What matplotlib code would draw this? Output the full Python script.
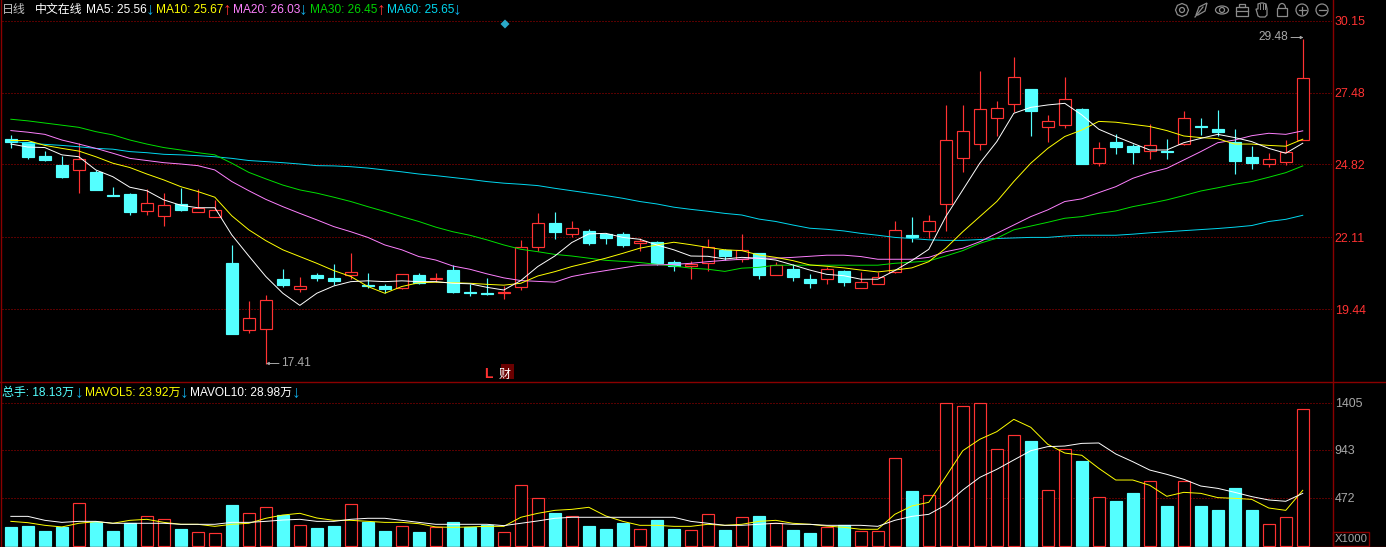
import matplotlib
matplotlib.use('Agg')
import matplotlib.pyplot as plt
from matplotlib.patches import Circle, Ellipse, Polygon, Rectangle, RegularPolygon, Arc

plt.rcParams['font.family'] = ['Liberation Sans', 'Noto Sans CJK SC', 'DejaVu Sans']

# Daily candles
opens = [25.76, 25.64, 25.13, 24.80, 24.59, 24.54, 23.68, 23.72, 23.10, 22.92,
         23.34, 23.07, 22.88, 21.16, 18.66, 18.73, 20.57, 20.18, 20.72, 20.61,
         20.73, 20.35, 20.31, 20.25, 20.72, 20.57, 20.90, 20.09, 20.05, 20.06,
         20.26, 21.77, 22.64, 22.25, 22.35, 22.24, 22.24, 21.90, 21.94, 21.20,
         21.05, 21.15, 21.64, 21.31, 21.53, 20.73, 20.94, 20.57, 20.58, 20.87,
         20.25, 20.40, 20.84, 22.20, 22.36, 23.36, 25.07, 25.59, 26.55, 27.07,
         27.61, 26.22, 26.29, 26.87, 24.87, 25.65, 25.50, 25.33, 25.31, 25.56,
         26.23, 26.13, 25.65, 25.09, 24.84, 24.92, 25.71]
closes = [25.65, 25.10, 24.98, 24.35, 25.01, 23.87, 23.66, 23.05, 23.37, 23.30,
          23.13, 23.21, 23.12, 18.53, 19.11, 19.78, 20.35, 20.30, 20.61, 20.50,
          20.82, 20.31, 20.20, 20.74, 20.41, 20.61, 20.09, 20.06, 20.01, 20.10,
          21.74, 22.63, 22.31, 22.45, 21.90, 22.09, 21.83, 21.98, 21.16, 21.05,
          21.13, 21.74, 21.42, 21.63, 20.72, 21.08, 20.64, 20.42, 20.93, 20.46,
          20.45, 20.63, 22.37, 22.13, 22.71, 25.71, 26.04, 26.86, 26.90, 28.04,
          26.80, 26.41, 27.23, 24.83, 25.41, 25.46, 25.28, 25.52, 25.28, 26.52,
          26.20, 26.02, 24.94, 24.87, 25.01, 25.26, 28.01]
highs = [25.91, 25.64, 25.31, 25.14, 25.60, 24.61, 23.98, 23.77, 23.89, 23.76,
         23.93, 23.89, 23.50, 21.83, 19.74, 19.98, 20.94, 20.64, 20.79, 21.13,
         21.53, 20.79, 20.38, 20.74, 20.79, 20.79, 21.08, 20.37, 20.59, 20.32,
         22.01, 23.02, 23.05, 22.72, 22.42, 22.27, 22.31, 22.09, 21.98, 21.27,
         21.24, 22.05, 21.68, 22.24, 21.53, 21.20, 21.13, 20.75, 21.01, 20.90,
         20.83, 20.83, 22.72, 22.87, 22.94, 27.02, 27.02, 28.28, 27.17, 28.80,
         27.61, 26.65, 28.06, 26.91, 25.65, 25.94, 25.57, 26.31, 25.76, 26.80,
         26.54, 26.83, 26.13, 25.50, 25.24, 25.72, 29.48]
lows = [25.44, 25.03, 24.94, 24.31, 23.77, 23.87, 23.66, 22.94, 22.95, 22.53,
        23.09, 23.07, 22.88, 18.53, 18.58, 17.41, 20.26, 20.09, 20.50, 20.35,
        20.58, 20.24, 20.04, 20.20, 20.37, 20.46, 20.05, 19.94, 19.98, 19.83,
        20.16, 21.61, 22.05, 22.13, 21.83, 21.87, 21.76, 21.61, 21.09, 20.87,
        20.57, 20.87, 21.27, 21.20, 20.57, 20.73, 20.50, 20.24, 20.38, 20.31,
        20.25, 20.40, 20.79, 21.94, 22.09, 22.35, 24.54, 25.35, 25.87, 26.76,
        25.87, 25.65, 26.17, 24.83, 24.76, 25.20, 24.83, 25.02, 25.02, 25.54,
        25.91, 25.87, 24.46, 24.65, 24.72, 24.80, 25.71]

# Moving averages on the price panel
ma5 = [25.57, 25.46, 25.44, 25.17, 25.10, 24.61, 24.36, 23.97, 23.84, 23.50,
       23.30, 23.21, 23.21, 22.20, 21.42, 20.66, 20.04, 19.59, 20.04, 20.31,
       20.47, 20.50, 20.47, 20.50, 20.47, 20.47, 20.41, 20.39, 20.26, 20.16,
       20.51, 21.03, 21.42, 21.92, 22.24, 22.26, 22.11, 22.04, 21.83, 21.65,
       21.42, 21.41, 21.31, 21.37, 21.34, 21.27, 21.09, 20.90, 20.74, 20.69,
       20.56, 20.56, 20.88, 21.25, 21.67, 22.88, 23.87, 24.86, 25.66, 26.71,
       26.93, 27.02, 27.08, 26.65, 26.12, 25.85, 25.60, 25.35, 25.35, 25.62,
       25.78, 25.93, 25.81, 25.66, 25.41, 25.23, 25.60]
ma10 = [25.70, 25.70, 25.52, 25.41, 25.31, 25.10, 24.86, 24.70, 24.46, 24.24,
        23.99, 23.81, 23.60, 22.91, 22.39, 21.99, 21.65, 21.40, 21.15, 20.88,
        20.66, 20.29, 20.04, 20.29, 20.43, 20.45, 20.43, 20.41, 20.37, 20.34,
        20.41, 20.68, 20.84, 21.03, 21.18, 21.34, 21.52, 21.71, 21.83, 21.93,
        21.84, 21.74, 21.65, 21.62, 21.46, 21.37, 21.25, 21.09, 21.04, 20.98,
        20.90, 20.83, 20.90, 20.98, 21.21, 21.71, 22.32, 22.88, 23.44, 24.18,
        24.86, 25.41, 25.85, 26.09, 26.41, 26.38, 26.30, 26.22, 26.07, 25.87,
        25.81, 25.77, 25.57, 25.57, 25.52, 25.49, 25.75]
ma20 = [26.07, 26.01, 25.93, 25.72, 25.57, 25.41, 25.23, 25.04, 24.96, 24.88,
        24.83, 24.77, 24.61, 24.18, 23.84, 23.52, 23.25, 23.00, 22.76, 22.51,
        22.32, 22.11, 21.83, 21.65, 21.40, 21.27, 21.05, 20.93, 20.76, 20.61,
        20.51, 20.48, 20.45, 20.66, 20.78, 20.88, 20.98, 21.08, 21.09, 21.11,
        21.15, 21.21, 21.26, 21.30, 21.34, 21.34, 21.37, 21.41, 21.45, 21.45,
        21.40, 21.30, 21.30, 21.30, 21.37, 21.58, 21.71, 21.95, 22.26, 22.57,
        22.88, 23.13, 23.44, 23.54, 23.77, 23.99, 24.30, 24.51, 24.67, 24.98,
        25.29, 25.62, 25.72, 25.88, 25.97, 25.93, 26.06]
ma30 = [26.49, 26.43, 26.35, 26.27, 26.19, 26.03, 25.91, 25.72, 25.57, 25.44,
        25.35, 25.25, 25.17, 24.86, 24.52, 24.28, 24.05, 23.87, 23.75, 23.60,
        23.44, 23.25, 23.07, 22.88, 22.70, 22.49, 22.32, 22.19, 22.02, 21.83,
        21.67, 21.58, 21.48, 21.42, 21.34, 21.26, 21.22, 21.18, 21.11, 21.05,
        20.97, 20.93, 20.85, 20.97, 21.00, 21.08, 21.08, 21.08, 21.08, 21.08,
        21.08, 21.08, 21.15, 21.19, 21.24, 21.42, 21.62, 21.89, 22.08, 22.39,
        22.53, 22.67, 22.82, 22.88, 23.00, 23.09, 23.25, 23.37, 23.50, 23.66,
        23.83, 23.95, 24.08, 24.18, 24.34, 24.51, 24.76]
ma60 = [25.68, 25.60, 25.56, 25.52, 25.47, 25.41, 25.38, 25.29, 25.25, 25.19,
        25.17, 25.14, 25.10, 25.04, 24.96, 24.92, 24.88, 24.83, 24.77, 24.76,
        24.73, 24.68, 24.61, 24.54, 24.46, 24.40, 24.33, 24.26, 24.18, 24.12,
        24.08, 24.03, 23.93, 23.84, 23.75, 23.66, 23.56, 23.44, 23.35, 23.23,
        23.15, 23.08, 23.00, 22.94, 22.79, 22.70, 22.57, 22.45, 22.41, 22.35,
        22.26, 22.19, 22.11, 22.07, 22.02, 22.00, 22.00, 22.03, 22.07, 22.09,
        22.11, 22.11, 22.16, 22.19, 22.19, 22.19, 22.23, 22.28, 22.32, 22.36,
        22.40, 22.44, 22.49, 22.55, 22.70, 22.78, 22.93]

# Volume panel, axis is in X1000
volumes = [187, 196, 147, 187, 419, 236, 147, 226, 291, 262,
           167, 134, 124, 403, 321, 380, 304, 203, 177, 196,
           409, 236, 147, 193, 138, 183, 236, 187, 206, 134,
           596, 468, 324, 291, 196, 167, 226, 164, 255, 167,
           154, 311, 157, 282, 295, 226, 157, 128, 187, 206,
           144, 144, 861, 540, 498, 1401, 1372, 1401, 949, 1087,
           1031, 547, 949, 835, 478, 442, 521, 635, 393, 635,
           393, 354, 570, 354, 213, 282, 1342]
mavol5 = [242, 229, 203, 187, 223, 239, 223, 252, 262, 232,
          213, 213, 193, 213, 223, 272, 304, 321, 275, 252,
          252, 242, 232, 232, 219, 187, 183, 187, 193, 193,
          282, 321, 350, 360, 380, 295, 242, 203, 203, 193,
          193, 213, 203, 213, 242, 252, 223, 213, 196, 183,
          164, 164, 311, 393, 429, 681, 936, 1048, 1123, 1244,
          1166, 999, 913, 891, 763, 648, 648, 596, 488, 527,
          517, 475, 468, 458, 373, 350, 547]
mavol10 = [291, 291, 252, 232, 242, 242, 223, 223, 223, 223,
           213, 213, 213, 232, 232, 242, 255, 262, 242, 242,
           262, 272, 272, 252, 232, 213, 213, 213, 213, 200,
           223, 246, 272, 282, 282, 282, 282, 282, 282, 282,
           242, 223, 203, 203, 213, 223, 213, 213, 203, 203,
           203, 193, 252, 291, 311, 403, 550, 674, 753, 845,
           936, 976, 982, 1008, 1012, 904, 828, 746, 704, 655,
           589, 566, 527, 485, 452, 439, 517]

price_ticks = [30.15, 27.48, 24.82, 22.11, 19.44]
volume_ticks = [1405, 943, 472]

RED = '#ff3232'
CYAN = '#54ffff'
DARK_RED = '#8a0000'
GRID_RED = '#b00000'
GREY = '#a8a8a8'
ICON = '#8c8c8c'

W, H = 1386, 547
fig = plt.figure(figsize=(W / 100, H / 100), dpi=100, facecolor='black')


def add_panel(top, bottom):
    ax = fig.add_axes([2 / W, 1 - bottom / H, 1330 / W, (bottom - top) / H], facecolor='black')
    ax.set_xlim(-0.52, 77.72)
    ax.set_xticks([])
    for s in ax.spines.values():
        s.set_visible(False)
    ax.yaxis.tick_right()
    ax.set_axisbelow(True)
    ax.grid(axis='y', color=GRID_RED, linewidth=0.72, linestyle=(0, (1, 2)))
    return ax


xs = list(range(len(opens)))
up = [c >= o for o, c in zip(opens, closes)]
colors = [RED if u else CYAN for u in up]
faces = ['black' if u else CYAN for u in up]

# Price panel
ax = add_panel(0, 382)
ax.set_ylim(16.75, 30.91)
ax.set_yticks(price_ticks)
ax.set_yticklabels(['%.2f' % t for t in price_ticks], color=RED, fontsize=8.9)
ax.tick_params(axis='y', length=0, pad=2)
ax.vlines(xs, lows, highs, colors=colors, linewidth=0.85, zorder=2)
ax.bar(xs, [abs(c - o) for o, c in zip(opens, closes)], bottom=[min(o, c) for o, c in zip(opens, closes)],
       width=12 / 17, color=faces, edgecolor=colors, linewidth=0.85, zorder=2.5)
for vals, col in [(ma60, '#00d8f0'), (ma30, '#00e000'), (ma20, '#ff80ff'), (ma10, '#ffff00'), (ma5, '#ffffff')]:
    ax.plot(xs, vals, color=col, linewidth=0.7, zorder=3)

# Volume panel
vax = add_panel(382, 547)
vax.set_ylim(-10, 1611)
vax.set_yticks(volume_ticks)
vax.set_yticklabels([str(t) for t in volume_ticks], color=GREY, fontsize=8.9)
vax.tick_params(axis='y', length=0, pad=2)
vax.bar(xs, volumes, width=12 / 17, color=faces, edgecolor=colors, linewidth=0.85, zorder=2)
vax.plot(xs, mavol5, color='#ffff00', linewidth=0.7, zorder=3)
vax.plot(xs, mavol10, color='#ffffff', linewidth=0.7, zorder=3)

# Overlay in pixel units for frame, legends and icons
ov = fig.add_axes([0, 0, 1, 1], zorder=10)
ov.set_xlim(0, W)
ov.set_ylim(H, 0)
ov.axis('off')
ov.patch.set_alpha(0)

ov.plot([1, 1], [0, 547], color=DARK_RED, lw=1)
ov.plot([1332.5, 1332.5], [0, 547], color=DARK_RED, lw=1)
ov.plot([0, W], [382, 382], color=DARK_RED, lw=1)
ov.plot([0, W], [546.5, 546.5], color=DARK_RED, lw=1)


def label(x, y, s, color, size=8.6, weight='normal'):
    ov.text(x, y, s, color=color, fontsize=size, ha='left', va='center', fontweight=weight)


def arrow(x, y, s, color):
    ov.text(x, y, s, color=color, fontsize=12.5, ha='center', va='center', family='Liberation Sans')


ARROW_DOWN = '#10a8e0'
label(2, 10, '日线', '#c0c0c0')
label(35, 10, '中文在线', '#ffffff')
label(86, 10, 'MA5: 25.56', '#ffffff')
arrow(150, 10, '↓', ARROW_DOWN)
label(156, 10, 'MA10: 25.67', '#ffff00')
arrow(227, 10, '↑', RED)
label(233, 10, 'MA20: 26.03', '#ff80ff')
arrow(303, 10, '↓', ARROW_DOWN)
label(310, 10, 'MA30: 26.45', '#00d000')
arrow(381, 10, '↑', RED)
label(387, 10, 'MA60: 25.65', '#00d8f0')
arrow(457, 10, '↓', ARROW_DOWN)

label(2, 393, '总手: 18.13万', '#54ffff')
arrow(79, 393, '↓', ARROW_DOWN)
label(85, 393, 'MAVOL5: 23.92万', '#ffff00')
arrow(184, 393, '↓', ARROW_DOWN)
label(190, 393, 'MAVOL10: 28.98万', '#ffffff')
arrow(296, 393, '↓', ARROW_DOWN)

# High and low callouts
label(281, 363, '17.41', GREY)
ov.annotate('', xy=(266, 363.5), xytext=(279, 363.5),
            arrowprops=dict(arrowstyle='-|>', color=GREY, lw=0.7, mutation_scale=4, shrinkA=0, shrinkB=0))
label(1258, 37, '29.48', GREY)
ov.annotate('', xy=(1303.5, 37.5), xytext=(1291, 37.5),
            arrowprops=dict(arrowstyle='-|>', color=GREY, lw=0.7, mutation_scale=4, shrinkA=0, shrinkB=0))

# Event markers
ov.add_patch(RegularPolygon((505, 24), 4, radius=4.5, color='#2aa8c8', lw=0))
label(484, 374, 'L', RED, 10, 'bold')
ov.add_patch(Rectangle((501, 364), 13, 15, color='#6a0000', lw=0))
ov.text(505, 375, '财', color='#ffffff', fontsize=8.7, ha='center', va='center')

# X1000 box
ov.add_patch(Rectangle((1333, 532), 36, 14, fill=False, edgecolor=DARK_RED, lw=1))
label(1334.5, 539.5, 'X1000', GREY, 8.1)

# Toolbar icons
lw = 0.9
ov.add_patch(RegularPolygon((1182, 10), 8, radius=6.5, fill=False, edgecolor=ICON, lw=lw))
ov.add_patch(Circle((1182, 10), 2.5, fill=False, edgecolor=ICON, lw=lw))
ov.add_patch(Polygon([(1196, 15), (1199, 7), (1207, 3), (1205, 11), (1198, 15)], fill=False, edgecolor=ICON, lw=lw))
ov.plot([1195, 1203], [17, 7], color=ICON, lw=lw)
ov.add_patch(Ellipse((1222, 10), 13, 8, fill=False, edgecolor=ICON, lw=lw))
ov.add_patch(Circle((1222, 10), 2.5, fill=False, edgecolor=ICON, lw=lw))
ov.add_patch(Rectangle((1236, 7), 12, 9, fill=False, edgecolor=ICON, lw=lw))
ov.add_patch(Rectangle((1239, 4), 6, 3, fill=False, edgecolor=ICON, lw=lw))
ov.plot([1236, 1248], [10.5, 10.5], color=ICON, lw=lw)
ov.add_patch(Polygon([(1258, 16), (1256, 9), (1258, 9), (1258, 4), (1261, 3), (1263, 3), (1266, 4),
                      (1267, 9), (1267, 15), (1265, 17), (1260, 17)], fill=False, edgecolor=ICON, lw=lw))
for fx in [1260, 1262.5, 1265]:
    ov.plot([fx, fx], [4, 9], color=ICON, lw=0.7)
ov.add_patch(Rectangle((1277, 8), 10, 8, fill=False, edgecolor=ICON, lw=lw))
ov.add_patch(Arc((1282, 8), 7, 9, theta1=180, theta2=360, edgecolor=ICON, lw=lw))
ov.add_patch(Circle((1302, 10), 6, fill=False, edgecolor=ICON, lw=lw))
ov.plot([1298.5, 1305.5], [10, 10], color=ICON, lw=lw)
ov.plot([1302, 1302], [6.5, 13.5], color=ICON, lw=lw)
ov.add_patch(Circle((1322, 10), 6, fill=False, edgecolor=ICON, lw=lw))
ov.plot([1318.5, 1325.5], [10, 10], color=ICON, lw=lw)

fig.savefig('out.png', dpi=100, facecolor='black')
